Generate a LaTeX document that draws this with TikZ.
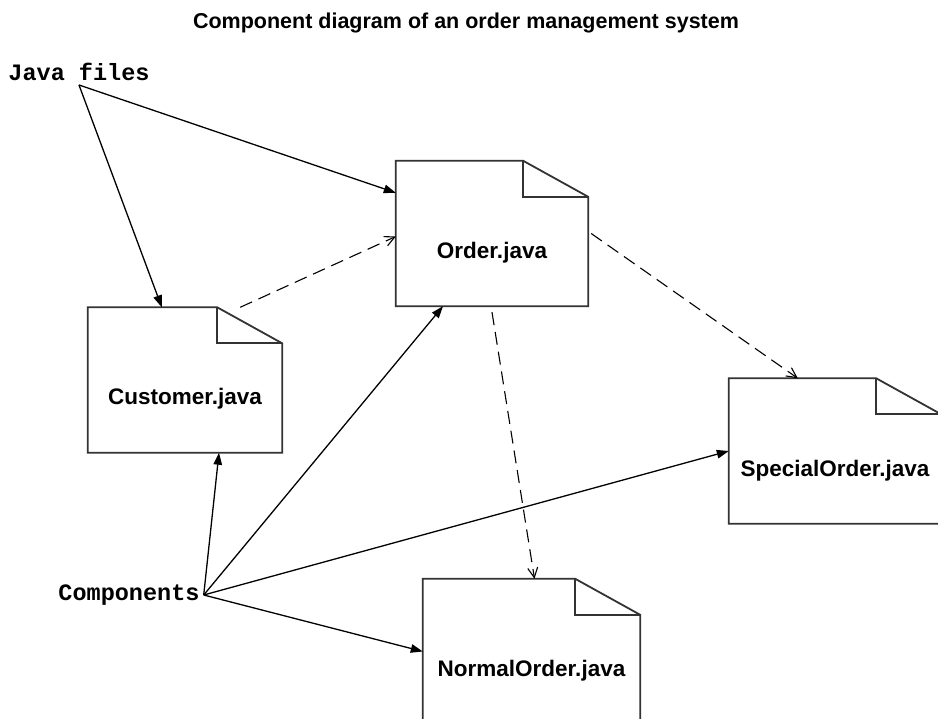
\documentclass[tikz,border=0pt]{standalone}
\usepackage{fontspec}
\setmainfont{Liberation Sans}
\setmonofont{Liberation Mono}
\usetikzlibrary{arrows.meta}

\begin{document}
\begin{tikzpicture}[x=1pt, y=-1pt,
    every node/.style={inner sep=0.001},
    file/.style={minimum width=#1, minimum height=145pt, text height=55pt, text depth=5pt,
      font=\fontsize{22.5}{27}\selectfont\bfseries},
    mono/.style={inner sep=4pt, font=\ttfamily\bfseries\fontsize{23.5}{28}\selectfont},
    outline/.style={draw=black!80, line width=1.8pt, line join=miter},
    link/.style={-{Triangle[length=12pt,width=8.5pt]}, line width=1.3pt},
    dep/.style={-{Straight Barb[length=10pt,width=10pt]}, line width=1.1pt, dash pattern=on 13pt off 7pt}]
  \useasboundingbox (0,0) rectangle (938,719);
  \clip (0,0) rectangle (938,719);

  % Title
  \node[font=\fontsize{21.5}{25}\selectfont\bfseries] (title) at (466,23)
    {Component diagram of an order management system};

  % Files
  \node[file=192pt] (order) at (492,233.5) {Order.java};
  \node[file=194pt] (customer) at (185,380) {Customer.java};
  \node[file=212pt] (special) at (835,451) {SpecialOrder.java};
  \node[file=217pt] (normal) at (531.5,651.5) {NormalOrder.java};

  % Dog-eared outlines
  \foreach \f in {order,customer,special,normal} {
    \draw[outline] (\f.north west) -- ([xshift=-65pt]\f.north east)
      -- ([yshift=-36pt]\f.north east) -- (\f.south east) -- (\f.south west) -- cycle;
    \draw[outline] ([xshift=-65pt]\f.north east) |- ([yshift=-36pt]\f.north east);
  }

  % Captions
  \node[mono] (jf) at (79,72) {Java files};
  \node[mono] (cmp) at (129,595) {Components};

  % Java files
  \draw[link] (jf.south) -- ([yshift=-32pt]order.north west);
  \draw[link] (jf.south) -- ([xshift=74pt]customer.north west);

  % Dependencies
  \draw[dep] ([xshift=-42pt]customer.north east) -- ([yshift=-3pt]order.west);
  \draw[dep] ([xshift=3pt]order.east) -- ([xshift=69pt]special.north west);
  \draw[dep] ([yshift=-6pt]order.south) -- ([xshift=3pt]normal.north);

  % Components
  \draw[link] (cmp.east) -- ([xshift=34pt]customer.south);
  \draw[link] (cmp.east) -- ([xshift=-49pt]order.south);
  \draw[link] (cmp.east) -- (special.west);
  \draw[link] (cmp.east) -- (normal.west);
\end{tikzpicture}
\end{document}
